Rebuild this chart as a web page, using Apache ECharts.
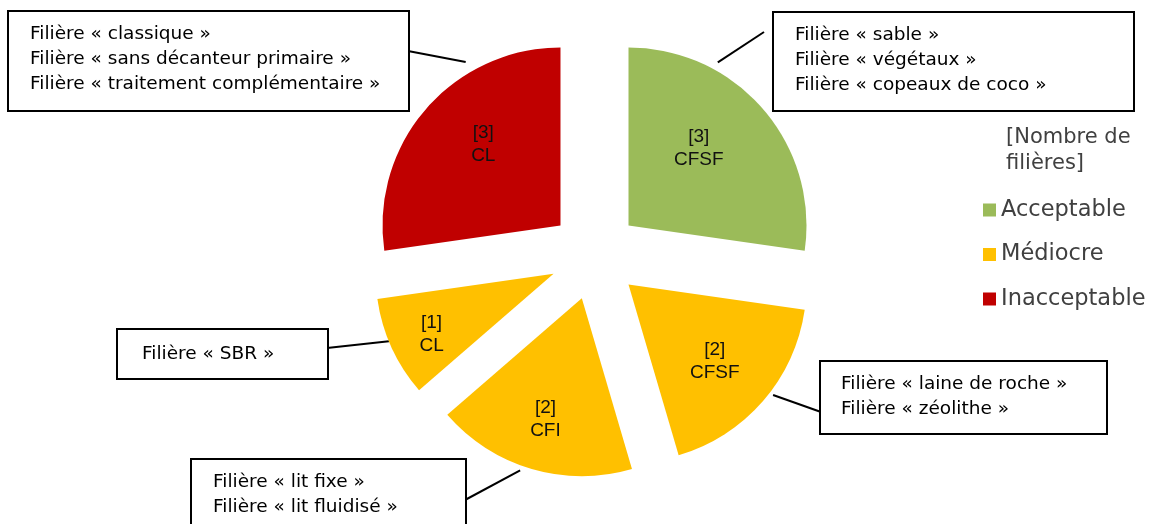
<!DOCTYPE html>
<html><head><meta charset="utf-8">
<script src="https://cdn.jsdelivr.net/npm/echarts@6/dist/echarts.min.js"></script>
<style>html,body{margin:0;padding:0;background:#fff}#chart{width:1154px;height:524px}</style>
</head><body><div id="chart"></div>
<script>
// ---------- data ----------
const statuses = ['Acceptable', 'Médiocre', 'Médiocre', 'Médiocre', 'Inacceptable'];
const counts = [3, 2, 2, 1, 3];
const groups = ['CFSF', 'CFSF', 'CFI', 'CL', 'CL'];
const filieres = [
  ['sable', 'végétaux', 'copeaux de coco'],
  ['laine de roche', 'zéolithe'],
  ['lit fixe', 'lit fluidisé'],
  ['SBR'],
  ['classique', 'sans décanteur primaire', 'traitement complémentaire']
];
const legendNames = ['Acceptable', 'Médiocre', 'Inacceptable'];
const legendTitle = '[Nombre de\nfilières]';

// ---------- styles & layout ----------
const statusColors = { 'Acceptable': '#9BBB59', 'Médiocre': '#FFC000', 'Inacceptable': '#C00000' };
const CX = 594.5, CY = 255, R = 178, EXPLODE = 45;
// callout boxes (top-left, size, left text padding)
const boxes = [
  { x: 774, y: 13, w: 359, h: 97, pl: 21 },
  { x: 821, y: 362, w: 285, h: 71, pl: 20 },
  { x: 192, y: 460, w: 273, h: 84, pl: 21 },
  { x: 118, y: 330, w: 209, h: 48, pl: 24 },
  { x: 9, y: 12, w: 399, h: 98, pl: 21 }
];
// leader lines: angle on slice (deg clockwise from top), distance from slice apex, end point at the box
const leaders = [
  { a: 28.7, d: 186, end: [764, 32] },
  { a: 127.4, d: 182, end: [821, 412] },
  { a: 199.7, d: 183, end: [465, 500] },
  { a: 247.7, d: 178, end: [327, 348] },
  { a: 329.9, d: 189, end: [408, 51] }
];
// nudges of the in-slice labels
const innerNudge = [[-22, 3], [-6, -3], [-2, 4], [-11, 10], [15, -1]];
const LH = 25, PADR = 10, PADT = 10;

const total = counts.reduce((a, b) => a + b, 0);
let acc = 0;
const mids = counts.map(v => { const m = (acc + v / 2) / total * 2 * Math.PI; acc += v; return m; });
const centers = mids.map(m => [CX + EXPLODE * Math.sin(m), CY - EXPLODE * Math.cos(m)]);

const sliceSeries = counts.map((v, i) => ({
  type: 'pie',
  center: centers[i],
  radius: R,
  startAngle: 90,
  clockwise: true,
  avoidLabelOverlap: false,
  z: 2,
  data: counts.map((c, j) => {
    const item = { name: statuses[j], value: c };
    if (j === i) {
      const b = boxes[i];
      const n = filieres[i].length;
      const padT = n === 1 ? Math.round((b.h - LH) / 2) : PADT;
      item.itemStyle = { color: statusColors[statuses[j]] };
      item.label = {
        show: true, position: 'outside',
        formatter: filieres[i].map(f => 'Filière « ' + f + ' »').join('\n'),
        fontFamily: 'DejaVu Sans', fontSize: 18.5, color: '#000', lineHeight: LH,
        backgroundColor: '#fff', borderColor: '#000', borderWidth: 2,
        padding: [padT, PADR, b.h - padT - n * LH, b.pl],
        width: b.w - b.pl - PADR, height: n * LH, align: 'left', verticalAlign: 'top'
      };
      item.labelLine = { show: true, length: 10, length2: 0, lineStyle: { color: '#000', width: 2 } };
    } else {
      item.itemStyle = { color: 'rgba(0,0,0,0)' };
      item.label = { show: false };
      item.labelLine = { show: false };
      item.emphasis = { disabled: true };
    }
    return item;
  }),
  labelLayout: function (p) {
    if (p.dataIndex !== i) return {};
    const b = boxes[i], L = leaders[i], c = centers[i];
    const a = L.a * Math.PI / 180;
    const start = [c[0] + L.d * Math.sin(a), c[1] - L.d * Math.cos(a)];
    return { x: b.x, y: b.y, align: 'left', verticalAlign: 'top', labelLinePoints: [start, L.end] };
  }
}));

const ringSeries = {
  type: 'pie',
  center: [CX, CY],
  radius: [60, R],
  startAngle: 90,
  clockwise: true,
  silent: true,
  selectedMode: 'multiple',
  selectedOffset: EXPLODE,
  z: 3,
  itemStyle: { color: 'rgba(0,0,0,0)', borderWidth: 0 },
  select: { itemStyle: { color: 'rgba(0,0,0,0)', borderWidth: 0 } },
  label: {
    show: true, position: 'inside',
    formatter: p => '[' + p.value + ']\n' + groups[p.dataIndex],
    fontFamily: 'Liberation Sans', fontSize: 19, lineHeight: 23, color: '#111'
  },
  labelLine: { show: false },
  labelLayout: p => ({ dx: innerNudge[p.dataIndex][0], dy: innerNudge[p.dataIndex][1] }),
  data: counts.map((c, j) => ({ name: statuses[j], value: c, selected: true }))
};

const chart = echarts.init(document.getElementById('chart'), null, { renderer: 'canvas' });
chart.setOption({
  animation: false,
  backgroundColor: '#fff',
  title: {
    text: legendTitle, left: 1006, top: 125, padding: 0,
    textStyle: { fontFamily: 'DejaVu Sans', fontSize: 21, fontWeight: 'normal', color: '#404040', lineHeight: 26 }
  },
  legend: {
    orient: 'vertical', left: 983, top: 197, padding: 0, itemWidth: 13, itemHeight: 13, itemGap: 18.5,
    icon: 'rect', selectedMode: false,
    textStyle: { fontFamily: 'DejaVu Sans', fontSize: 22.5, color: '#404040', lineHeight: 26 },
    data: legendNames.map(n => ({ name: n, itemStyle: { color: statusColors[n], opacity: 1 } }))
  },
  series: sliceSeries.concat([ringSeries])
});
</script>
</body></html>
